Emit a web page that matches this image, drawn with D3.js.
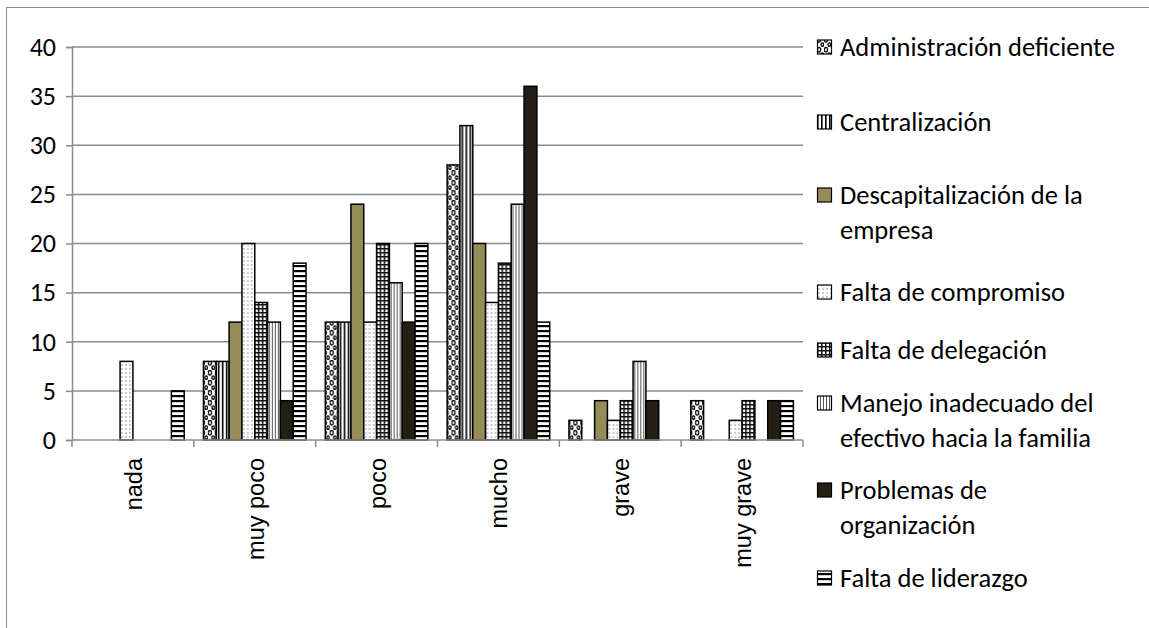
<!DOCTYPE html>
<html>
<head>
<meta charset="utf-8">
<script src="https://cdn.jsdelivr.net/npm/d3@7/dist/d3.min.js"></script>
<style>
  html, body { margin: 0; padding: 0; background: #fff; }
  svg { display: block; }
</style>
</head>
<body>
<svg id="chart" width="1149" height="628"></svg>
<script>
// Categories on the x axis
const categories = ["nada", "muy poco", "poco", "mucho", "grave", "muy grave"];

// Series (one value per category)
const seriesNames = [
  "Administración deficiente",
  "Centralización",
  "Descapitalización de la empresa",
  "Falta de compromiso",
  "Falta de delegación",
  "Manejo inadecuado del efectivo hacia la familia",
  "Problemas de organización",
  "Falta de liderazgo"
];
const administracion    = [0, 8, 12, 28, 2, 4];
const centralizacion    = [0, 8, 12, 32, 0, 0];
const descapitalizacion = [0, 12, 24, 20, 4, 0];
const compromiso        = [8, 20, 12, 14, 2, 2];
const delegacion        = [0, 14, 20, 18, 4, 4];
const manejo            = [0, 12, 16, 24, 8, 0];
const organizacion      = [0, 4, 12, 36, 4, 4];
const liderazgo         = [5, 18, 20, 12, 0, 4];

// Legend text, split into its display lines
const legendLines = [
  ["Administración deficiente"],
  ["Centralización"],
  ["Descapitalización de la", "empresa"],
  ["Falta de compromiso"],
  ["Falta de delegación"],
  ["Manejo inadecuado del", "efectivo hacia la familia"],
  ["Problemas de", "organización"],
  ["Falta de liderazgo"]
];

const yTicks = [0, 5, 10, 15, 20, 25, 30, 35, 40];

const seriesValues = [administracion, centralizacion, descapitalizacion, compromiso,
                      delegacion, manejo, organizacion, liderazgo];

const svg = d3.select("#chart");
const GRID = "#8c8c8c";
const legendFont = "Carlito, Lato, 'Open Sans', sans-serif";

// ---- fill patterns ----
const defs = svg.append("defs");
function pattern(id, w, h, bg) {
  const p = defs.append("pattern").attr("id", id)
    .attr("patternUnits", "userSpaceOnUse").attr("width", w).attr("height", h);
  p.append("rect").attr("width", w).attr("height", h).attr("fill", bg);
  return p;
}
// open ovals
{
  const p = pattern("p0", 7, 10, "#fff");
  p.append("ellipse").attr("cx", 2).attr("cy", 2.8).attr("rx", 1.6).attr("ry", 2.4)
    .attr("fill", "none").attr("stroke", "#000").attr("stroke-width", 1.3);
  p.append("ellipse").attr("cx", 5.3).attr("cy", 7.6).attr("rx", 1.3).attr("ry", 1.8)
    .attr("fill", "none").attr("stroke", "#000").attr("stroke-width", 1.3);
}
// wide vertical stripes
{
  const p = pattern("p1", 4, 4, "#fff");
  p.append("rect").attr("x", 0).attr("width", 1.6).attr("height", 4).attr("fill", "#000");
}
// dotted light vertical lines
{
  const p = pattern("p3", 4, 4, "#fff");
  p.append("rect").attr("x", 1.5).attr("y", 0).attr("width", 1).attr("height", 2).attr("fill", "#9a9a9a");
}
// small grid
{
  const p = pattern("p4", 4, 4, "#fff");
  p.append("rect").attr("x", 0).attr("width", 1.5).attr("height", 4).attr("fill", "#111");
  p.append("rect").attr("y", 0).attr("width", 4).attr("height", 1.5).attr("fill", "#111");
}
// fine vertical lines
{
  const p = pattern("p5", 3, 3, "#fff");
  p.append("rect").attr("x", 0).attr("width", 1).attr("height", 3).attr("fill", "#555");
}
// horizontal stripes
{
  const p = pattern("p7", 5, 5, "#fff");
  p.append("rect").attr("y", 0).attr("width", 5).attr("height", 2.2).attr("fill", "#000");
}
const fills = ["url(#p0)", "url(#p1)", "#968c58", "url(#p3)", "url(#p4)", "url(#p5)", "#231f14", "url(#p7)"];

// ---- outer frame ----
svg.append("rect").attr("x", 6.5).attr("y", 7.5).attr("width", 1200).attr("height", 700)
  .attr("fill", "none").attr("stroke", GRID).attr("stroke-width", 1);

// ---- scales ----
const plot = { left: 72, right: 803, top: 47, bottom: 440 };
const x0 = d3.scaleBand().domain(categories).range([plot.left, plot.right]).paddingInner(0).paddingOuter(0);
const x1 = d3.scaleBand().domain(d3.range(seriesNames.length)).range([0, x0.bandwidth()])
  .paddingInner(0).paddingOuter(0.75);
const y = d3.scaleLinear().domain([0, 40]).range([plot.bottom, plot.top]);

// ---- gridlines ----
svg.append("g").selectAll("line").data(yTicks.filter(d => d > 0)).join("line")
  .attr("x1", plot.left).attr("x2", plot.right)
  .attr("y1", d => y(d)).attr("y2", d => y(d))
  .attr("stroke", GRID).attr("stroke-width", 1.5);

// ---- y axis ----
const yAxis = svg.append("g").attr("transform", `translate(${plot.left},0)`)
  .call(d3.axisLeft(y).tickValues(yTicks).tickSize(6).tickPadding(10));
yAxis.select(".domain").attr("stroke", GRID).attr("stroke-width", 1.5);
yAxis.selectAll(".tick line").attr("stroke", GRID).attr("stroke-width", 1.5);
yAxis.selectAll(".tick text").attr("fill", "#000")
  .style("font-family", legendFont).style("font-size", "26px");

// ---- bars ----
const groups = svg.append("g").selectAll("g").data(categories).join("g")
  .attr("transform", d => `translate(${x0(d)},0)`);
groups.selectAll("rect")
  .data((c, ci) => seriesValues.map((vals, si) => ({ si, v: vals[ci] })).filter(d => d.v > 0))
  .join("rect")
  .attr("x", d => x1(d.si))
  .attr("y", d => y(d.v))
  .attr("width", x1.bandwidth())
  .attr("height", d => y(0) - y(d.v))
  .attr("fill", d => fills[d.si])
  .attr("stroke", "#000").attr("stroke-width", 1.5);

// ---- x axis ----
const xAxisG = svg.append("g").attr("transform", `translate(0,${plot.bottom})`);
xAxisG.append("line").attr("x1", plot.left).attr("x2", plot.right)
  .attr("stroke", GRID).attr("stroke-width", 1.5);
const boundaries = categories.map(c => x0(c)).concat([x0(categories[categories.length - 1]) + x0.bandwidth()]);
xAxisG.selectAll("line.tk").data(boundaries).join("line").attr("class", "tk")
  .attr("x1", d => d).attr("x2", d => d).attr("y1", 0).attr("y2", 7)
  .attr("stroke", GRID).attr("stroke-width", 1.5);
xAxisG.selectAll("text").data(categories).join("text")
  .attr("transform", d => `translate(${x0(d) + x0.bandwidth() / 2 + 1},18) rotate(-90)`)
  .attr("text-anchor", "end")
  .attr("dominant-baseline", "central")
  .style("font-family", "'Liberation Sans', Arial, sans-serif")
  .style("font-size", "23.5px")
  .attr("fill", "#000")
  .text(d => d);

// ---- legend ----
const legendTop = [47, 122, 195, 292, 350, 403, 490, 578];
const lineGap = 35;
const legend = svg.append("g");
seriesNames.forEach((name, i) => {
  const g = legend.append("g").attr("transform", `translate(817,${legendTop[i]})`);
  g.append("rect").attr("x", 0.5).attr("y", -7).attr("width", 14).attr("height", 14)
    .attr("fill", fills[i]).attr("stroke", "#000").attr("stroke-width", 1.2);
  const t = g.append("text").attr("x", 23).attr("y", 0)
    .style("font-family", legendFont).style("font-size", "26.5px").attr("fill", "#000");
  legendLines[i].forEach((ln, k) => {
    t.append("tspan").attr("x", 23).attr("y", k * lineGap)
      .attr("dominant-baseline", "central").text(ln);
  });
});
</script>
</body>
</html>
